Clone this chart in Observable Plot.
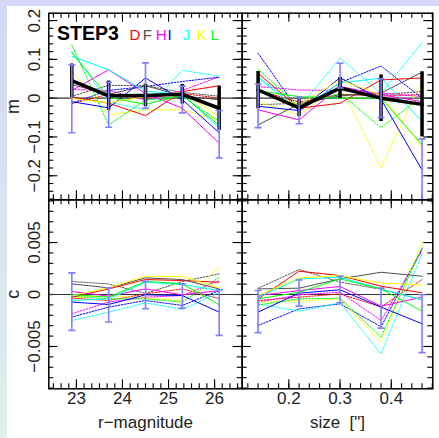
<!DOCTYPE html>
<html>
<head>
<meta charset="utf-8">
<script src="https://cdn.jsdelivr.net/npm/d3@7"></script>
<script src="https://cdn.jsdelivr.net/npm/@observablehq/plot@0.6"></script>
<style>
  html, body { margin: 0; padding: 0; }
  #page { position: relative; width: 439px; height: 438px; overflow: hidden;
          background: linear-gradient(to bottom, #d5d8f7, #ddf0ea); font-family: "Liberation Sans", Arial, sans-serif; }
  #sheet { position: absolute; left: 7px; top: 6px; right: 0; bottom: 0; background: #fff; }
  #page svg { position: absolute; left: 0; top: 0; }
  .lg { position: absolute; line-height: 1; white-space: nowrap; }
</style>
</head>
<body>
<div id="page">
  <div id="sheet"></div>
</div>
<script>
// ---------------- data ----------------
const groups = ["D", "F", "H", "I", "J", "K", "L"];
const groupColors = ["#ff0000", "#505050", "#ff00ff", "#0000ff", "#00ffff", "#ffff00", "#00ff00"];
const magBins = [22.9, 23.7, 24.5, 25.3, 26.1];
const sizeBins = [0.14, 0.22, 0.30, 0.38, 0.46];

// m vs r-magnitude (rows: D F H I J K L)
const mMagSolid = [
  [0.003, -0.013, -0.045, 0.017, 0.032],
  [0.035, 0.010, 0.032, 0.006, -0.004],
  [0.020, 0.073, 0.012, -0.026, -0.116],
  [-0.009, -0.025, 0.052, -0.004, -0.089],
  [0.108, 0.073, 0.018, 0.010, -0.077],
  [-0.001, -0.012, 0.004, 0.015, -0.047],
  [0.117, 0.002, -0.016, 0.008, -0.070]
];
const mMagDotted = [
  [-0.014, 0.010, 0.002, 0.012, 0.000],
  [0.005, 0.033, 0.032, 0.015, 0.005],
  [0.022, 0.020, -0.005, 0.020, 0.055],
  [-0.013, 0.020, 0.030, 0.043, 0.054],
  [0.120, -0.010, -0.030, 0.072, 0.056],
  [0.070, -0.043, -0.030, -0.030, -0.055],
  [0.137, -0.069, -0.005, 0.005, -0.060]
];
const mMagMean = [0.045, 0.006, 0.007, 0.010, -0.026];
const mMagMeanErr = [0.043, 0.038, 0.029, 0.025, 0.057];
const mMagBarLo = [-0.089, -0.075, -0.026, -0.038, -0.154];
const mMagBarHi = [0.086, 0.041, 0.091, 0.031, -0.032];

// m vs size
const mSizeSolid = [
  [0.064, -0.026, -0.013, 0.047, 0.052],
  [-0.069, -0.015, 0.006, 0.013, 0.067],
  [-0.030, -0.056, 0.030, 0.009, -0.009],
  [-0.021, -0.032, 0.053, -0.003, -0.185],
  [0.052, -0.030, 0.039, 0.052, -0.060],
  [0.017, -0.017, 0.047, 0.008, -0.125],
  [0.019, 0.004, 0.000, 0.000, -0.120]
];
const mSizeDotted = [
  [0.020, -0.010, 0.010, 0.005, 0.010],
  [-0.017, -0.013, 0.009, 0.009, 0.017],
  [0.030, 0.021, 0.020, 0.013, 0.004],
  [0.116, -0.034, 0.040, 0.083, 0.000],
  [0.055, -0.025, 0.103, 0.013, 0.143],
  [-0.010, -0.043, 0.034, -0.180, 0.047],
  [0.075, -0.022, 0.013, -0.076, 0.004]
];
const mSizeMean = [0.021, -0.025, 0.026, 0.000, -0.016];
const mSizeMeanErr = [0.048, 0.022, 0.027, 0.060, 0.084];
const mSizeBarLo = [-0.076, -0.066, 0.026, -0.050, -0.265];
const mSizeBarHi = [0.036, 0.003, 0.090, 0.050, -0.105];

// c vs r-magnitude
const cMagSolid = [
  [-0.26e-3, 0.54e-3, 1.44e-3, 1.34e-3, 1.18e-3],
  [1.02e-3, 0.64e-3, 1.60e-3, 1.44e-3, 0.54e-3],
  [0.29e-3, -0.16e-3, 0.54e-3, -0.03e-3, 0.38e-3],
  [-0.73e-3, -0.96e-3, -0.03e-3, -0.10e-3, -1.69e-3],
  [-0.58e-3, -0.42e-3, 1.18e-3, 0.96e-3, 0.38e-3],
  [-0.10e-3, 0.64e-3, 1.76e-3, 1.73e-3, 0.64e-3],
  [0.00e-3, -0.26e-3, 1.28e-3, 1.02e-3, -0.99e-3]
];
const cMagDotted = [
  [-0.35e-3, -0.58e-3, 0.06e-3, 0.54e-3, -0.40e-3],
  [1.25e-3, 1.02e-3, 0.10e-3, 1.25e-3, 1.98e-3],
  [-1.85e-3, -0.73e-3, -0.26e-3, -0.10e-3, 1.34e-3],
  [-2.17e-3, -1.21e-3, -0.58e-3, -1.05e-3, 0.38e-3],
  [-2.50e-3, -1.70e-3, -0.80e-3, -1.44e-3, 0.20e-3],
  [-0.30e-3, -0.10e-3, -0.35e-3, -0.60e-3, 2.60e-3],
  [-0.16e-3, -0.42e-3, -0.42e-3, -0.73e-3, 1.66e-3]
];
const cMagBarLo = [-3.45e-3, -2.65e-3, -1.37e-3, -1.31e-3, -3.93e-3];
const cMagBarHi = [2.08e-3, 0.64e-3, 1.28e-3, 1.02e-3, 0.45e-3];

// c vs size
const cSizeSolid = [
  [-0.42e-3, 2.24e-3, 1.82e-3, 0.80e-3, 0.16e-3],
  [0.54e-3, 0.61e-3, 1.50e-3, 2.14e-3, 1.76e-3],
  [-0.10e-3, 0.38e-3, 0.77e-3, -1.12e-3, -0.26e-3],
  [-1.69e-3, 0.13e-3, 0.45e-3, -1.21e-3, -2.81e-3],
  [-0.26e-3, 1.50e-3, 1.66e-3, 0.54e-3, -0.51e-3],
  [-0.10e-3, 1.60e-3, 1.82e-3, 1.09e-3, 0.93e-3],
  [-0.42e-3, 0.22e-3, 1.50e-3, 0.54e-3, -1.60e-3]
];
const cSizeDotted = [
  [-0.58e-3, -0.26e-3, 0.06e-3, -1.20e-3, 1.44e-3],
  [0.60e-3, 2.40e-3, 1.20e-3, 0.50e-3, -0.50e-3],
  [-0.73e-3, -0.03e-3, 0.22e-3, -2.50e-3, 4.20e-3],
  [-2.98e-3, -1.38e-3, -0.90e-3, -3.10e-3, 4.40e-3],
  [-0.90e-3, -1.60e-3, -0.80e-3, -5.70e-3, 3.90e-3],
  [-0.73e-3, -0.64e-3, -0.42e-3, -4.60e-3, 5.00e-3],
  [-1.00e-3, -0.42e-3, -0.35e-3, -4.10e-3, 4.50e-3]
];
const cSizeBarLo = [-3.67e-3, -1.12e-3, -0.80e-3, -3.23e-3, -5.59e-3];
const cSizeBarHi = [0.38e-3, 1.41e-3, 1.76e-3, 0.61e-3, -0.03e-3];

// axis ticks
const magTicks = [23, 24, 25, 26];
const sizeTicks = [0.2, 0.3, 0.4];
const mTicks = [-0.2, -0.1, 0, 0.1, 0.2];
const cTicks = [-0.005, 0, 0.005];

// ---------------- drawing ----------------
const W = 439, H = 438;
const colL = [48.3, 241.7], colR = [241.7, 432.3];
const rowT = [12.7, 199.3], rowB = [199.3, 388.3];
const magDomain = [22.4, 26.6], sizeDomain = [0.109, 0.481];
const mDomain = [-0.262, 0.219], cDomain = [-0.00907, 0.00911];

const minus = s => s.replace("-", "\u2212");
const fmtM = d => d === 0 ? "0" : minus(d3.format(".1f")(d));
const fmtC = d => d === 0 ? "0" : minus(d3.format(".3f")(d));

const magMinor = d3.range(-3, 23).map(i => 23 + i / 6).filter(v => v > magDomain[0] && v < magDomain[1]);
const sizeMinor = d3.range(6, 25).map(i => i * 0.02);
const mMinor = d3.range(-13, 11).map(i => i * 0.02);
const cMinor = d3.range(-9, 10).map(i => i * 0.001);

const capSymbol = { draw(ctx) { ctx.moveTo(-3.5, 0); ctx.lineTo(3.5, 0); } };

function toRows(xs, table) {
  return table.flatMap((vals, gi) => vals.map((v, i) => ({ x: xs[i], y: v, g: groups[gi], c: groupColors[gi] })));
}

function panel(o) {
  const [left, right] = o.col, [top, bottom] = o.row;
  const fW = right - left, fH = bottom - top;
  const bars = o.xs.map((x, i) => ({ x, lo: o.barLo[i], hi: o.barHi[i] }));
  const marks = [];
  // inward ticks on all four sides
  marks.push(
    Plot.tickX(o.xMinor, { x: d => d, insetTop: fH - 5, stroke: "#000", strokeWidth: 1.1 }),
    Plot.tickX(o.xMinor, { x: d => d, insetBottom: fH - 5, stroke: "#000", strokeWidth: 1.1 }),
    Plot.tickX(o.xMajor, { x: d => d, insetTop: fH - 9, stroke: "#000", strokeWidth: 1.1 }),
    Plot.tickX(o.xMajor, { x: d => d, insetBottom: fH - 9, stroke: "#000", strokeWidth: 1.1 }),
    Plot.tickY(o.yMinor, { y: d => d, insetRight: fW - 5, stroke: "#000", strokeWidth: 1.1 }),
    Plot.tickY(o.yMinor, { y: d => d, insetLeft: fW - 5, stroke: "#000", strokeWidth: 1.1 }),
    Plot.tickY(o.yMajor, { y: d => d, insetRight: fW - 9, stroke: "#000", strokeWidth: 1.1 }),
    Plot.tickY(o.yMajor, { y: d => d, insetLeft: fW - 9, stroke: "#000", strokeWidth: 1.1 }),
    Plot.ruleY([0], { stroke: "#333", strokeWidth: 1.2 })
  );
  marks.push(
    Plot.line(toRows(o.xs, o.dotted), { x: "x", y: "y", z: "g", stroke: "c", strokeWidth: 1, strokeDasharray: "1.5,1.5", clip: true }),
    Plot.line(toRows(o.xs, o.solid), { x: "x", y: "y", z: "g", stroke: "c", strokeWidth: 1, clip: true })
  );
  if (o.mean) {
    const mrows = o.xs.map((x, i) => ({ x, y: o.mean[i], e: o.meanErr[i] }));
    marks.push(
      Plot.line(mrows, { x: "x", y: "y", stroke: "#000", strokeWidth: 3.5, clip: true }),
      Plot.ruleX(mrows, { x: "x", y1: d => d.y - d.e, y2: d => d.y + d.e, stroke: "#000", strokeWidth: 3.5, clip: true })
    );
  }
  marks.push(
    Plot.ruleX(bars, { x: "x", y1: "lo", y2: "hi", stroke: "#7f7fff", strokeWidth: 1.6, clip: true }),
    Plot.dot(bars, { x: "x", y: "lo", symbol: capSymbol, fill: "none", stroke: "#7f7fff", strokeWidth: 1.6, clip: true }),
    Plot.dot(bars, { x: "x", y: "hi", symbol: capSymbol, fill: "none", stroke: "#7f7fff", strokeWidth: 1.6, clip: true }),
    Plot.frame({ stroke: "#000", strokeWidth: 1.5 })
  );
  if (o.yLabels) {
    marks.push(
      Plot.text(o.yLabels, { y: d => d, frameAnchor: "left", textAnchor: "middle", dx: -14, rotate: -90, text: o.yFmt, fontSize: 17, fill: "#222" }),
      Plot.text([o.yTitle], { frameAnchor: "left", textAnchor: "middle", dx: -36, rotate: -90, text: d => d, fontSize: 18, fill: "#222" })
    );
  }
  if (o.xLabels) {
    marks.push(
      Plot.text(o.xLabels, { x: d => d, frameAnchor: "bottom", textAnchor: "middle", dy: 15.6, text: o.xFmt, fontSize: 17, fill: "#222" }),
      Plot.text([o.xTitle], { frameAnchor: "bottom", textAnchor: "middle", dy: 39, text: d => d, fontSize: 17, fill: "#222" })
    );
  }
  return Plot.plot({
    width: W, height: H,
    marginLeft: left, marginRight: W - right, marginTop: top, marginBottom: H - bottom,
    x: { domain: o.xDomain, axis: null },
    y: { domain: o.yDomain, axis: null },
    style: { background: "transparent", overflow: "visible", fontFamily: "Liberation Sans, Arial, sans-serif" },
    marks
  });
}

const page = document.getElementById("page");
page.append(
  panel({ col: colL, row: rowT, xs: magBins, xDomain: magDomain, yDomain: mDomain,
    solid: mMagSolid, dotted: mMagDotted, mean: mMagMean, meanErr: mMagMeanErr, barLo: mMagBarLo, barHi: mMagBarHi,
    xMajor: magTicks, xMinor: magMinor, yMajor: mTicks, yMinor: mMinor,
    yLabels: mTicks, yFmt: fmtM, yTitle: "m" }),
  panel({ col: colR, row: rowT, xs: sizeBins, xDomain: sizeDomain, yDomain: mDomain,
    solid: mSizeSolid, dotted: mSizeDotted, mean: mSizeMean, meanErr: mSizeMeanErr, barLo: mSizeBarLo, barHi: mSizeBarHi,
    xMajor: sizeTicks, xMinor: sizeMinor, yMajor: mTicks, yMinor: mMinor }),
  panel({ col: colL, row: rowB, xs: magBins, xDomain: magDomain, yDomain: cDomain,
    solid: cMagSolid, dotted: cMagDotted, barLo: cMagBarLo, barHi: cMagBarHi,
    xMajor: magTicks, xMinor: magMinor, yMajor: cTicks, yMinor: cMinor,
    yLabels: cTicks, yFmt: fmtC, yTitle: "c",
    xLabels: magTicks, xFmt: d => String(d), xTitle: "r\u2212magnitude" }),
  panel({ col: colR, row: rowB, xs: sizeBins, xDomain: sizeDomain, yDomain: cDomain,
    solid: cSizeSolid, dotted: cSizeDotted, barLo: cSizeBarLo, barHi: cSizeBarHi,
    xMajor: sizeTicks, xMinor: sizeMinor, yMajor: cTicks, yMinor: cMinor,
    xLabels: sizeTicks, xFmt: d => d3.format(".1f")(d), xTitle: "size  [\"]" })
);

// legend (title + group letters)
const step = document.createElement("div");
step.className = "lg";
step.style.cssText = "left:57px;top:24px;font-size:19.5px;font-weight:bold;color:#000;";
step.textContent = "STEP3";
page.append(step);
const letterX = [129.5, 142.8, 155.8, 167.5, 182.7, 196.7, 210.5];
groups.forEach((g, i) => {
  const s = document.createElement("div");
  s.className = "lg";
  s.style.cssText = `left:${letterX[i]}px;top:26.5px;font-size:15px;color:${groupColors[i]};`;
  s.textContent = g;
  page.append(s);
});
</script>
</body>
</html>
